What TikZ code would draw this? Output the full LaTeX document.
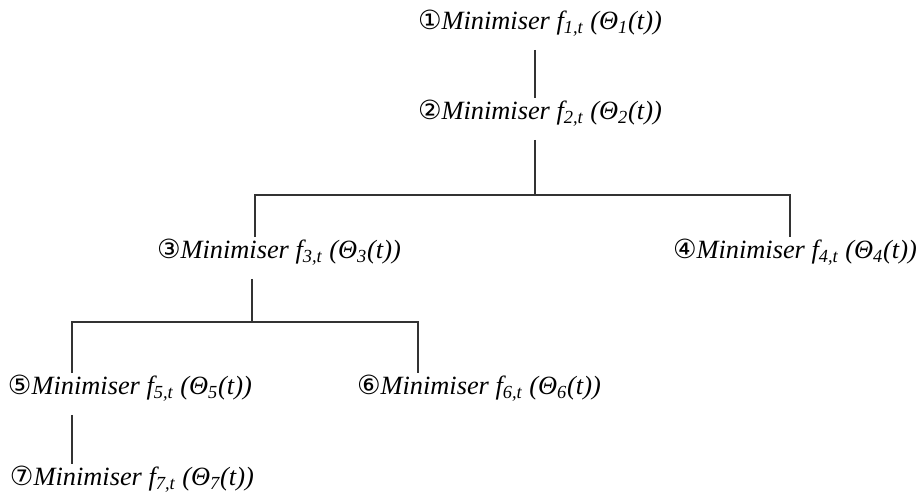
\documentclass[tikz,border=0pt]{standalone}
\usepackage{fontspec}
\setmainfont{Liberation Serif}
\newfontfamily\numfont{DejaVu Sans}
\usetikzlibrary{positioning}

\newcommand{\minlabel}[2]{{\numfont #1}\textit{Minimiser f\textsubscript{#2,t} (Θ\textsubscript{#2}(t))}}

\begin{document}
\begin{tikzpicture}[
  x=0.02cm,y=-0.02cm,
  font=\fontsize{15}{18}\selectfont,
  fn/.style={anchor=west,inner sep=0pt,outer sep=0pt,text height=0.34cm,text depth=0.16cm},
  link/.style={draw=black!80,line width=0.9pt,shorten <=0.25cm,shorten >=0.09cm},
  stem/.style={draw=black!80,line width=0.9pt,shorten <=0.25cm},
  drop/.style={draw=black!80,line width=0.9pt,shorten <=0.09cm,shorten >=0.09cm}]
  \useasboundingbox (0,0) rectangle (921,503);
  % minimisers
  \node[fn] (m1) at (418,25)  {\minlabel{①}{1}};
  \node[fn] (m2) at (418,115) {\minlabel{②}{2}};
  \node[fn] (m3) at (157,254) {\minlabel{③}{3}};
  \node[fn] (m4) at (673,254) {\minlabel{④}{4}};
  \node[fn] (m5) at (8,390)   {\minlabel{⑤}{5}};
  \node[fn] (m6) at (357,390) {\minlabel{⑥}{6}};
  \node[fn] (m7) at (10,481)  {\minlabel{⑦}{7}};
  % junctions
  \coordinate (j2) at (535,195);
  \coordinate (b2l) at (255,195);
  \coordinate (b2r) at (790,195);
  \coordinate (j3) at (252,322);
  \coordinate (b3l) at (72,322);
  \coordinate (b3r) at (418,322);
  % tree
  \draw[link] (m1.south -| j2) -- (m2.north -| j2);
  \draw[stem] (m2.south -| j2) -- (j2);
  \draw[drop] (m3.north -| b2l) -- (b2l) -- (b2r) -- (m4.north -| b2r);
  \draw[stem] (m3.south -| j3) -- (j3);
  \draw[drop] (m5.north -| b3l) -- (b3l) -- (b3r) -- (m6.north -| b3r);
  \draw[link] (m5.south -| b3l) -- (m7.north -| b3l);
\end{tikzpicture}
\end{document}
